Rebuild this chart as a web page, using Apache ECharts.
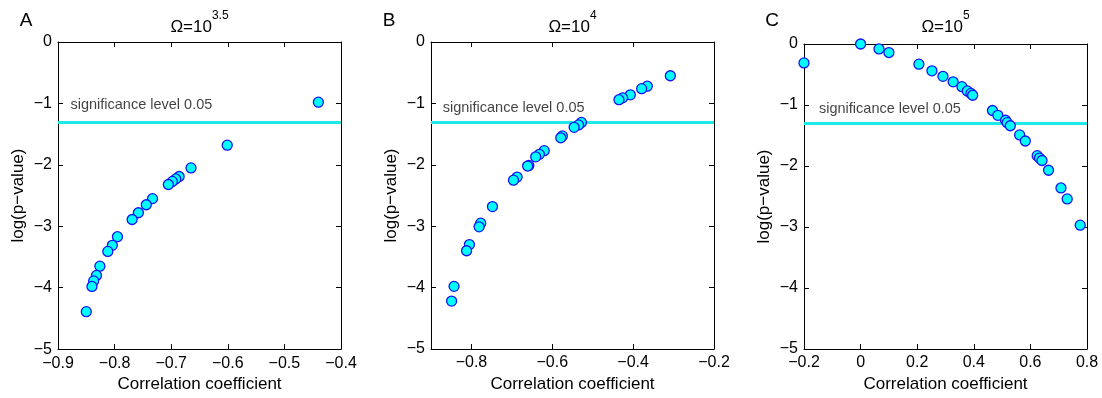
<!DOCTYPE html>
<html><head><meta charset="utf-8">
<script src="https://cdn.jsdelivr.net/npm/echarts@6/dist/echarts.min.js"></script>
<style>html,body{margin:0;padding:0;background:#fff}#c{width:1102px;height:398px}</style>
</head><body><div id="c"></div>
<script>
// ---- data ----
const xA = [-0.44,-0.601,-0.665,-0.686,-0.692,-0.698,-0.705,-0.733,-0.744,-0.758,-0.769,-0.795,-0.804,-0.812,-0.826,-0.832,-0.837,-0.840,-0.850];
const yA = [-0.98,-1.68,-2.05,-2.19,-2.23,-2.27,-2.32,-2.55,-2.65,-2.78,-2.89,-3.17,-3.31,-3.41,-3.65,-3.80,-3.89,-3.98,-4.39];

const xB = [-0.308,-0.365,-0.379,-0.407,-0.426,-0.435,-0.528,-0.535,-0.546,-0.575,-0.579,-0.620,-0.632,-0.641,-0.658,-0.661,-0.687,-0.696,-0.748,-0.777,-0.781,-0.805,-0.812,-0.843,-0.849];
const yB = [-0.55,-0.72,-0.76,-0.86,-0.91,-0.94,-1.31,-1.35,-1.39,-1.53,-1.56,-1.77,-1.83,-1.87,-2.01,-2.02,-2.20,-2.25,-2.68,-2.95,-3.01,-3.30,-3.40,-3.98,-4.22];

const xC = [-0.2,0.0,0.065,0.1,0.206,0.252,0.291,0.327,0.358,0.377,0.39,0.396,0.466,0.485,0.512,0.518,0.529,0.562,0.582,0.624,0.632,0.641,0.664,0.708,0.73,0.776];
const yC = [-0.31,0,-0.08,-0.14,-0.33,-0.44,-0.53,-0.62,-0.70,-0.77,-0.81,-0.84,-1.09,-1.17,-1.25,-1.29,-1.34,-1.49,-1.59,-1.83,-1.87,-1.91,-2.07,-2.36,-2.54,-2.97];

const panelLetters = ['A','B','C'];
const omegaExponents = ['3.5','4','5'];
const xTicksB = [-0.8,-0.6,-0.4,-0.2];
const sigLevel = Math.log10(0.05);
const sigLabel = 'significance level 0.05';
const xName = 'Correlation coefficient';
const yName = 'log(p\u2212value)';

// ---- layout ----
const FONT = "'Liberation Sans', Arial, Helvetica, sans-serif";
const panels = [
  {xs:xA, ys:yA, xmin:-0.9, xmax:-0.4, xint:0.1, grid:{left:58, top:42, width:283, height:310}, letter:[26,21], ann:[-0.878,-1.02]},
  {xs:xB, ys:yB, xmin:-0.9, xmax:-0.2, custom:xTicksB, grid:{left:431, top:42, width:283, height:307}, letter:[389,21], ann:[-0.871,-1.08]},
  {xs:xC, ys:yC, xmin:-0.2, xmax:0.8, xint:0.2, grid:{left:804, top:44, width:283, height:305}, letter:[772,21], ann:[-0.147,-1.06]}
];

function fmt(v){
  if (Math.abs(v) < 1e-9) return '0';
  const s = Number.isInteger(Math.round(v*1000)/1000) ? String(Math.round(v)) : v.toFixed(1);
  return s.replace('-', '\u2212');
}

const grids = [], xAxes = [], yAxes = [], series = [], graphics = [];
const lineStyle = {color:'#000', width:1};
panels.forEach((p, i) => {
  grids.push(Object.assign({containLabel:false}, p.grid));
  const xBase = {gridIndex:i, type:'value', min:p.xmin, max:p.xmax, splitLine:{show:false}};
  if (p.xint) xBase.interval = p.xint;
  const tick = {inside:true, length:5, lineStyle:{color:'#000', width:1}};
  if (p.custom) tick.customValues = p.custom;
  const xLabel = {fontSize:16, color:'#000', fontFamily:FONT, margin:6, formatter:fmt};
  if (p.custom) xLabel.customValues = p.custom;
  xAxes.push(Object.assign({}, xBase, {position:'bottom', axisLine:{show:true, onZero:false, lineStyle},
    axisTick:tick, axisLabel:xLabel,
    name:xName, nameLocation:'middle', nameGap:25, nameTextStyle:{fontSize:17, color:'#000', fontFamily:FONT}}));
  xAxes.push(Object.assign({}, xBase, {position:'top', axisLine:{show:true, onZero:false, lineStyle},
    axisTick:tick, axisLabel:{show:false}}));
  const yBase = {gridIndex:i, type:'value', min:-5, max:0, interval:1, splitLine:{show:false}};
  yAxes.push(Object.assign({}, yBase, {position:'left', axisLine:{show:true, onZero:false, lineStyle},
    axisTick:{inside:true, length:5, lineStyle:{color:'#000', width:1}},
    axisLabel:{fontSize:16, color:'#000', fontFamily:FONT, margin:6, formatter:fmt},
    name:yName, nameLocation:'middle', nameRotate:90, nameGap:31, nameTextStyle:{fontSize:17, color:'#000', fontFamily:FONT}}));
  yAxes.push(Object.assign({}, yBase, {position:'right', axisLine:{show:true, onZero:false, lineStyle},
    axisTick:{inside:true, length:5, lineStyle:{color:'#000', width:1}}, axisLabel:{show:false}}));

  series.push({
    type:'scatter', xAxisIndex:2*i, yAxisIndex:2*i, symbol:'circle', symbolSize:10, z:5,
    itemStyle:{color:'#00FFFF', borderColor:'#1414f0', borderWidth:1.3, opacity:1},
    data:p.xs.map((x,k)=>[x, p.ys[k]]),
    markLine:{silent:true, symbol:['none','none'], label:{show:false}, z:3,
      lineStyle:{color:'#1ee8e8', width:3, type:'solid'}, data:[{yAxis:sigLevel}]}
  });
  series.push({
    type:'scatter', xAxisIndex:2*i, yAxisIndex:2*i, symbolSize:0, silent:true,
    data:[p.ann],
    label:{show:true, position:'right', distance:0, formatter:sigLabel, fontSize:14.5, color:'#111', fontFamily:FONT}
  });

  graphics.push({type:'text', x:p.letter[0], y:p.letter[1],
    style:{text:panelLetters[i], fontSize:19, fill:'#000', fontFamily:FONT, align:'center', verticalAlign:'middle'}});
  graphics.push({type:'text', x:p.grid.left + p.grid.width/2, y:10,
    style:{text:'{a|\u03A9=10}{b|' + omegaExponents[i] + '}', align:'center', verticalAlign:'top', fontFamily:FONT,
      rich:{a:{fontSize:17, lineHeight:26, fill:'#000', verticalAlign:'bottom', fontFamily:FONT},
            b:{fontSize:12, lineHeight:12, fill:'#000', verticalAlign:'top', fontFamily:FONT}}}});
});

const chart = echarts.init(document.getElementById('c'), null, {renderer:'canvas'});
chart.setOption({
  animation:false,
  backgroundColor:'#fff',
  textStyle:{fontFamily:FONT},
  grid:grids, xAxis:xAxes, yAxis:yAxes, series, graphic:graphics
});
</script></body></html>
